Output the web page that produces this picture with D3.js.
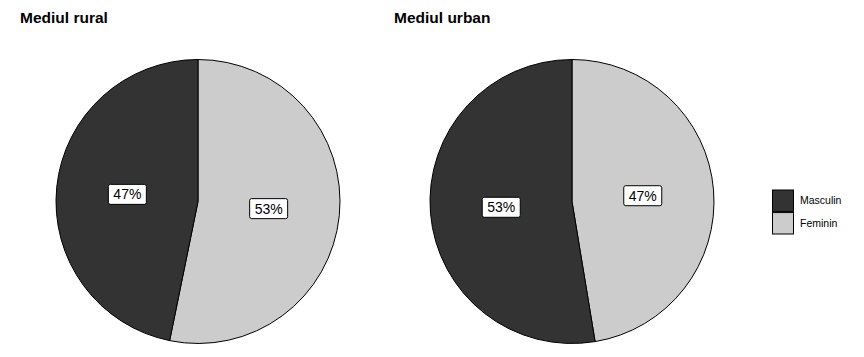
<!DOCTYPE html>
<html>
<head>
<meta charset="utf-8">
<script src="https://cdn.jsdelivr.net/npm/d3@7"></script>
<style>
  body { margin: 0; background: #fff; }
  text { font-family: "Liberation Sans", Arial, sans-serif; }
</style>
</head>
<body>
<svg id="chart"></svg>
<script>
var categories = ["Masculin", "Feminin"];
var panels = ["Mediul rural", "Mediul urban"];
var rural = [46.8, 53.2];
var urban = [52.6, 47.4];

var width = 864,
    height = 357,
    radius = 142;

var colour = d3.scaleOrdinal()
    .domain(categories)
    .range(["#333333", "#cccccc"]);

var svg = d3.select("#chart")
    .attr("width", width)
    .attr("height", height);

var pie = d3.pie()
    .value(function (d) { return d.value; })
    .sort(null);

var arc = d3.arc().innerRadius(0).outerRadius(radius);
var labelArc = d3.arc().innerRadius(radius / 2).outerRadius(radius / 2);

var xPanel = d3.scalePoint().domain(panels).range([198, 572]);

[rural, urban].forEach(function (vals, i) {
    var name = panels[i];
    var cx = xPanel(name), cy = 201.5;

    svg.append("text")
        .attr("x", cx - 178)
        .attr("y", 23)
        .style("font-size", "15.5px")
        .style("font-weight", "bold")
        .text(name);

    // feminin first, clockwise from 12 o'clock
    var data = categories.map(function (c, j) { return { cat: c, value: vals[j] }; }).reverse();
    var g = svg.append("g").attr("transform", "translate(" + cx + "," + cy + ")");

    g.selectAll("path")
        .data(pie(data))
        .enter().append("path")
        .attr("d", arc)
        .style("fill", function (d) { return colour(d.data.cat); })
        .style("stroke", "#000")
        .style("stroke-width", 1);

    var lab = g.selectAll(".lab")
        .data(pie(data))
        .enter().append("g")
        .attr("class", "lab")
        .attr("transform", function (d) { return "translate(" + labelArc.centroid(d) + ")"; });

    lab.append("rect")
        .attr("x", -19).attr("y", -10)
        .attr("width", 38).attr("height", 20)
        .attr("rx", 2).attr("ry", 2)
        .style("fill", "#fff")
        .style("stroke", "#000")
        .style("stroke-width", 1);

    lab.append("text")
        .attr("text-anchor", "middle")
        .attr("y", 5)
        .style("font-size", "14px")
        .text(function (d) { return Math.round(d.data.value) + "%"; });
});

// legend
var yLeg = d3.scaleBand().domain(categories).range([190, 234]).paddingInner(0.05);
var leg = svg.append("g");
leg.selectAll("rect")
    .data(categories)
    .enter().append("rect")
    .attr("x", 772.5)
    .attr("y", function (d) { return yLeg(d); })
    .attr("width", 21)
    .attr("height", yLeg.bandwidth())
    .style("fill", function (d) { return colour(d); })
    .style("stroke", "#000")
    .style("stroke-width", 1);
leg.selectAll("text")
    .data(categories)
    .enter().append("text")
    .attr("x", 800)
    .attr("y", function (d) { return yLeg(d) + yLeg.bandwidth() / 2 + 3.5; })
    .style("font-size", "10.5px")
    .text(function (d) { return d; });
</script>
</body>
</html>
